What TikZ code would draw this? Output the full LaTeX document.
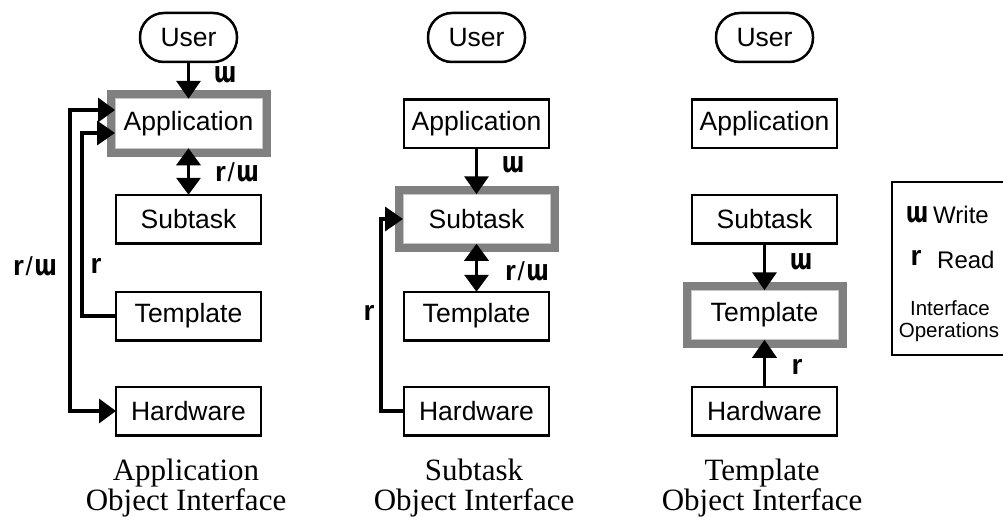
\documentclass[tikz,border=0pt]{standalone}
\usepackage{fontspec}
\setmainfont{Liberation Serif}
\setsansfont{Liberation Sans}
\newfontfamily\wfont{DejaVu Sans}
\usetikzlibrary{arrows.meta}
\definecolor{hlgray}{HTML}{808080}
\newcommand\wsym{\scalebox{0.8}[1.08]{\wfont\bfseries\fontsize{27}{27}\selectfont ɯ}}
\newcommand\rsym{{\sffamily\bfseries\fontsize{28}{28}\selectfont r}}
\newcommand\rw{\rsym{\sffamily\fontsize{26}{26}\selectfont\kern1.5pt/\kern1.5pt}\wsym}
\tikzset{
  box/.style={draw, line width=2.5pt, minimum width=145pt, minimum height=48.5pt,
    inner sep=0pt, outer sep=0pt, fill=white, font=\sffamily\fontsize{26.5}{30}\selectfont},
  userbox/.style={box, minimum width=97pt, minimum height=49pt, rounded corners=24pt},
  hlbox/.style={box, draw=gray!45, line width=1pt, minimum width=147pt, minimum height=49.5pt,
    line join=miter, preaction={draw=hlgray, line width=17pt, line join=miter}},
  conn/.style={line width=3.5pt, -{Triangle[length=18pt,width=24pt]}},
  conn2/.style={line width=3.5pt, {Triangle[length=17pt,width=24pt]}-{Triangle[length=17pt,width=24pt]}},
  lbl/.style={inner sep=0pt},
  captxt/.style={inner sep=0pt, anchor=base, font=\rmfamily\fontsize{31}{31}\selectfont},
  legtxt/.style={inner sep=0pt, font=\sffamily\fontsize{24}{24}\selectfont},
  legsmall/.style={inner sep=0pt, font=\sffamily\fontsize{20.5}{20.5}\selectfont}
}
\begin{document}
\begin{tikzpicture}[x=1pt,y=-1pt]
\useasboundingbox (0,0) rectangle (1003,519);
% ---- column 1
\node[userbox] (u1) at (188.5,37.5) {User};
\node[hlbox] (a1) at (188.5,123.5) {Application};
\node[box] (s1) at (188.5,219) {Subtask};
\node[box] (t1) at (188.5,316) {Template};
\node[box] (h1) at (188.5,411) {Hardware};
\draw[conn] (u1.south) -- (a1.north);
\draw[conn2] (a1.south) -- (s1.north);
\draw[conn2] (h1.west) -- ++(-46,0) |- ([yshift=13.5pt]a1.west);
\draw[conn] (t1.west) -- ++(-34,0) |- ([yshift=-9.5pt]a1.west);
\node[lbl] (l1w) at (225,75) {\wsym};
\node[lbl] (l1rw) at (237,172) {\rw};
\node[lbl] (l1rwl) at (35,266) {\rw};
\node[lbl] (l1r) at (96,266) {\rsym};
\node[captxt] (c1a) at (186,480) {Application};
\node[captxt] (c1b) at (186,510) {Object Interface};
% ---- column 2
\node[userbox] (u2) at (476.5,37.5) {User};
\node[box] (a2) at (476.5,123.5) {Application};
\node[hlbox] (s2) at (476.5,219) {Subtask};
\node[box] (t2) at (476.5,316) {Template};
\node[box] (h2) at (476.5,411) {Hardware};
\draw[conn] (a2.south) -- (s2.north);
\draw[conn2] (s2.south) -- (t2.north);
\draw[conn] (h2.west) -- ++(-23,0) |- (s2.west);
\node[lbl] (l2w) at (513,165) {\wsym};
\node[lbl] (l2rw) at (527,271) {\rw};
\node[lbl] (l2r) at (369,313) {\rsym};
\node[captxt] (c2a) at (474,480) {Subtask};
\node[captxt] (c2b) at (474,510) {Object Interface};
% ---- column 3
\node[userbox] (u3) at (764.5,37.5) {User};
\node[box] (a3) at (764.5,123.5) {Application};
\node[box] (s3) at (764.5,219) {Subtask};
\node[hlbox] (t3) at (764.5,315) {Template};
\node[box] (h3) at (764.5,411) {Hardware};
\draw[conn] (s3.south) -- (t3.north);
\draw[conn] (h3.north) -- (t3.south);
\node[lbl] (l3w) at (801,262) {\wsym};
\node[lbl] (l3r) at (797,367) {\rsym};
\node[captxt] (c3a) at (762,480) {Template};
\node[captxt] (c3b) at (762,510) {Object Interface};
% ---- legend
\draw[line width=2.5pt] (892,182) rectangle (1015,355);
\node[lbl] (lgw) at (917,215) {\wsym};
\node[legtxt, anchor=west] (lgwt) at (933,215) {Write};
\node[lbl] (lgr) at (916,258) {\rsym};
\node[legtxt, anchor=west] (lgrt) at (937,260) {Read};
\node[legsmall] (lgi) at (950,308) {Interface};
\node[legsmall] (lgo) at (949,332) {Operations};
\end{tikzpicture}
\end{document}
